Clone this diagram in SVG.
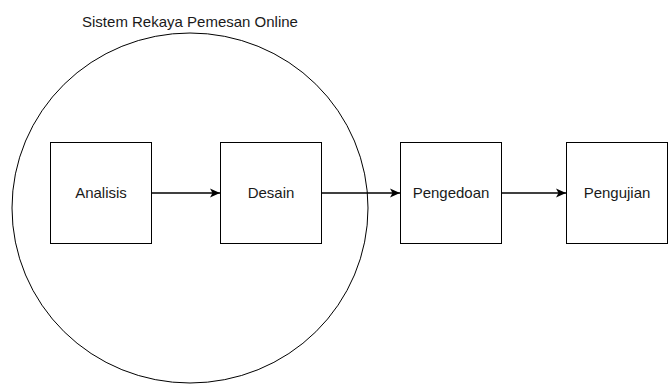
<svg xmlns="http://www.w3.org/2000/svg" width="668" height="385" viewBox="0 0 668 385">
<style>
.box{fill:#fff;stroke:#000;stroke-width:1}
.lbl{font-family:"Liberation Sans",Arial,sans-serif;font-size:15px;fill:#1a1a1a;text-anchor:middle}
.edge{fill:none;stroke:#000;stroke-width:1.3}
</style>
<defs>
<marker id="arr" markerUnits="userSpaceOnUse" markerWidth="12" markerHeight="12" refX="10" refY="6" orient="auto">
<path d="M0,1.5 L10,6 L0,10.5 L2.5,6 Z" fill="#000"/>
</marker>
</defs>
<rect width="668" height="385" fill="#fff"/>
<g id="system">
<ellipse cx="190" cy="208" rx="178" ry="175" fill="none" stroke="#000" stroke-width="1"/>
<text class="lbl" x="190" y="26.5">Sistem Rekaya Pemesan Online</text>
</g>
<g id="analisis">
<rect class="box" x="50.5" y="142.5" width="101" height="101"/>
<text class="lbl" x="101" y="197.5">Analisis</text>
</g>
<g id="desain">
<rect class="box" x="220.5" y="142.5" width="101" height="101"/>
<text class="lbl" x="271" y="197.5">Desain</text>
</g>
<g id="pengedoan">
<rect class="box" x="400.5" y="142.5" width="101" height="101"/>
<text class="lbl" x="451" y="197.5">Pengedoan</text>
</g>
<g id="pengujian">
<rect class="box" x="566.5" y="142.5" width="101" height="101"/>
<text class="lbl" x="617" y="197.5">Pengujian</text>
</g>
<g id="connectors">
<line class="edge" x1="151.5" y1="193" x2="220" y2="193" marker-end="url(#arr)"/>
<line class="edge" x1="321.5" y1="193" x2="400" y2="193" marker-end="url(#arr)"/>
<line class="edge" x1="501.5" y1="193" x2="566" y2="193" marker-end="url(#arr)"/>
</g>
</svg>
